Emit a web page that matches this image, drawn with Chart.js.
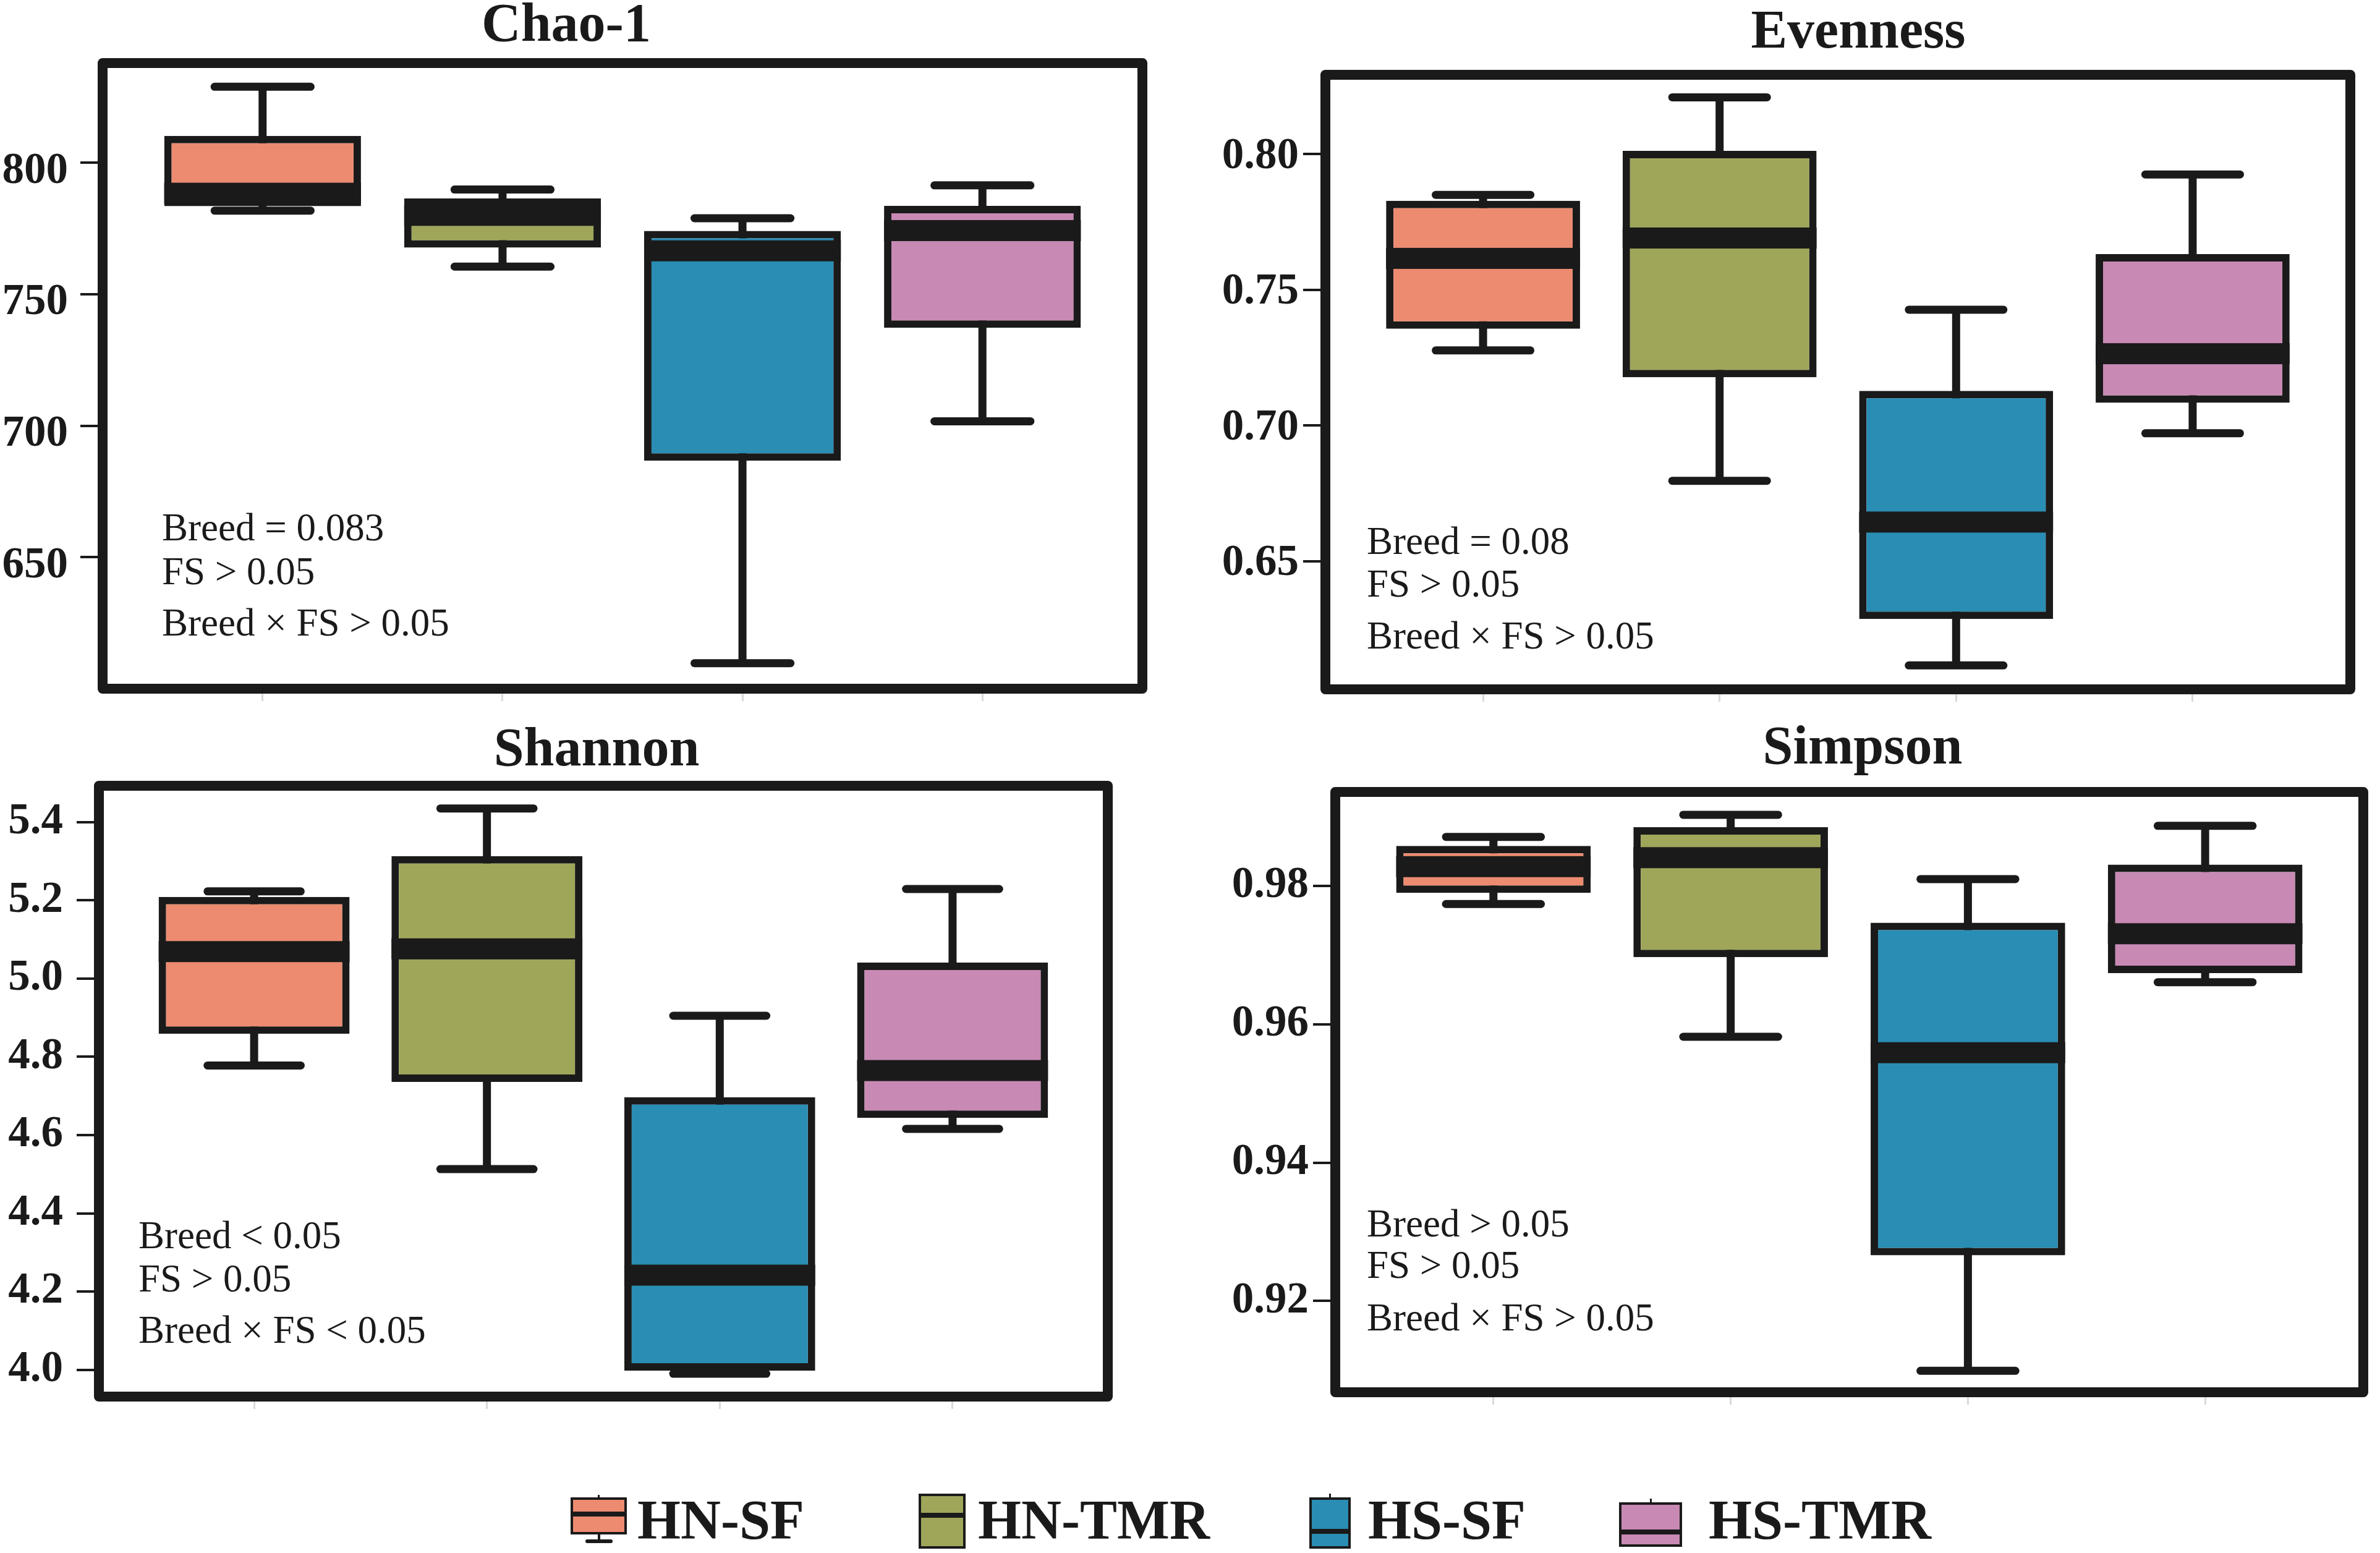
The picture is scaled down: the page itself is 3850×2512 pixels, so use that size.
<!DOCTYPE html>
<html>
<head>
<meta charset="utf-8">
<title>Alpha diversity</title>
<script src="https://cdn.jsdelivr.net/npm/chart.js@4.4.1/dist/chart.umd.min.js"></script>
<style>
  html, body { margin: 0; padding: 0; width: 3850px; height: 2512px; overflow: hidden; background: #fff; }
  canvas { position: absolute; }
  .lg { position: absolute; box-sizing: border-box; }
  .lg-text { position: absolute; font: bold 90px "Liberation Serif", serif; line-height: 90px; color: #1a1a1a; white-space: nowrap; }
</style>
</head>
<body>
<div id="legend"></div>
<script>
// groups
const groups = ["HN-SF", "HN-TMR", "HS-SF", "HS-TMR"];
const groupColors = ["#EC8B70", "#9FA65A", "#2A8DB3", "#C889B4"];

// Chao-1
const chaoMin = [781.8, 760.5, 609.7, 701.7];
const chaoQ1 = [783.5, 767.7, 686.7, 737.2];
const chaoMedian = [788.4, 780.0, 766.5, 774.2];
const chaoQ3 = [810.2, 786.4, 774.1, 783.6];
const chaoMax = [828.9, 789.8, 778.9, 791.4];
const chaoTicks = ["650", "700", "750", "800"];
const chaoNotes = ["Breed = 0.083", "FS > 0.05", "Breed \u00d7 FS > 0.05"];

// Evenness
const evenMin = [0.7277, 0.6797, 0.6117, 0.6972];
const evenQ1 = [0.7357, 0.7178, 0.6288, 0.7084];
const evenMedian = [0.7616, 0.7691, 0.6645, 0.7265];
const evenQ3 = [0.7828, 0.8012, 0.7128, 0.7632];
const evenMax = [0.7850, 0.8209, 0.7427, 0.7925];
const evenTicks = ["0.65", "0.70", "0.75", "0.80"];
const evenNotes = ["Breed = 0.08", "FS > 0.05", "Breed \u00d7 FS > 0.05"];

// Shannon
const shanMin = [4.778, 4.513, 3.990, 4.616];
const shanQ1 = [4.859, 4.736, 3.998, 4.644];
const shanMedian = [5.069, 5.076, 4.242, 4.765];
const shanQ3 = [5.209, 5.313, 4.697, 5.041];
const shanMax = [5.223, 5.435, 4.905, 5.229];
const shanTicks = ["4.0", "4.2", "4.4", "4.6", "4.8", "5.0", "5.2", "5.4"];
const shanNotes = ["Breed < 0.05", "FS > 0.05", "Breed \u00d7 FS < 0.05"];

// Simpson
const simpMin = [0.9774, 0.9582, 0.9099, 0.9661];
const simpQ1 = [0.9790, 0.9697, 0.9266, 0.9674];
const simpMedian = [0.9828, 0.9841, 0.9559, 0.9731];
const simpQ3 = [0.9858, 0.9885, 0.9747, 0.9831];
const simpMax = [0.9871, 0.9903, 0.9810, 0.9887];
const simpTicks = ["0.92", "0.94", "0.96", "0.98"];
const simpNotes = ["Breed > 0.05", "FS > 0.05", "Breed \u00d7 FS > 0.05"];

const INK = "#1a1a1a";
const SERIF = "'Liberation Serif', 'Times New Roman', serif";

Chart.defaults.font.family = SERIF;
Chart.defaults.color = INK;

// page layout of the four panels (frame = plot area in page pixels)
const panels = [
  {
    title: "Chao-1", min: chaoMin, q1: chaoQ1, med: chaoMedian, q3: chaoQ3, max: chaoMax,
    ticks: chaoTicks, notes: chaoNotes, yMin: 600, yMax: 837.9,
    frame: { l: 166, t: 102, r: 1848, b: 1114 }, titleX: 916, titleBase: 66, canvasLeft: -30,
    tickPad: 20, labelOffset: 14, noteX: 96, noteY: [772, 843, 926],
  },
  {
    title: "Evenness", min: evenMin, q1: evenQ1, med: evenMedian, q3: evenQ3, max: evenMax,
    ticks: evenTicks, notes: evenNotes, yMin: 0.6029, yMax: 0.8292,
    frame: { l: 2144, t: 121, r: 3802, b: 1115 }, titleX: 3006, titleBase: 77, canvasLeft: 1940,
    tickPad: 7, labelOffset: 4, noteX: 67, noteY: [775, 844, 928],
  },
  {
    title: "Shannon", min: shanMin, q1: shanQ1, med: shanMedian, q3: shanQ3, max: shanMax,
    ticks: shanTicks, notes: shanNotes, yMin: 3.9316, yMax: 5.4929,
    frame: { l: 160, t: 1271, r: 1792, b: 2259 }, titleX: 965, titleBase: 1238, canvasLeft: -30,
    tickPad: 22, labelOffset: 0, noteX: 64, noteY: [748, 818, 901],
  },
  {
    title: "Simpson", min: simpMin, q1: simpQ1, med: simpMedian, q3: simpQ3, max: simpMax,
    ticks: simpTicks, notes: simpNotes, yMin: 0.9068, yMax: 0.9936,
    frame: { l: 2160, t: 1281, r: 3823, b: 2252 }, titleX: 3013, titleBase: 1235, canvasLeft: 1940,
    tickPad: 7, labelOffset: 0, noteX: 51, noteY: [719, 786, 871],
  },
];

// whiskers, medians, notes, title and the heavy frame
function boxExtras(p, canvasTop) {
  return {
    id: "boxExtras",
    beforeDatasetsDraw(chart) {
      const { ctx, scales: { x, y } } = chart;
      const capW = (x.getPixelForValue(2) - x.getPixelForValue(1)) * 0.40;
      ctx.save();
      ctx.strokeStyle = INK;
      ctx.lineWidth = 13;
      groups.forEach((g, i) => {
        const px = x.getPixelForValue(i + 1);
        const top = y.getPixelForValue(p.max[i]);
        const bot = y.getPixelForValue(p.min[i]);
        ctx.lineCap = "butt";
        ctx.beginPath();
        ctx.moveTo(px, top);
        ctx.lineTo(px, bot);
        ctx.stroke();
        ctx.lineCap = "round";
        [top, bot].forEach((yy) => {
          ctx.beginPath();
          ctx.moveTo(px - capW / 2, yy);
          ctx.lineTo(px + capW / 2, yy);
          ctx.stroke();
        });
      });
      ctx.restore();
    },
    afterDatasetsDraw(chart) {
      const { ctx, chartArea, scales: { y } } = chart;
      const bars = chart.getDatasetMeta(0).data;
      ctx.save();
      ctx.fillStyle = INK;
      bars.forEach((bar, i) => {
        const { x: bx, width } = bar.getProps(["x", "width"], true);
        const ym = y.getPixelForValue(p.med[i]);
        ctx.fillRect(bx - width / 2, ym - 17, width, 34);
      });
      ctx.font = "63px " + SERIF;
      ctx.textBaseline = "alphabetic";
      ctx.textAlign = "left";
      p.notes.forEach((t, k) => {
        ctx.fillText(t, chartArea.left + p.noteX, chartArea.top + p.noteY[k]);
      });
      ctx.restore();
    },
    afterDraw(chart) {
      const { ctx, chartArea: ca } = chart;
      ctx.save();
      ctx.strokeStyle = INK;
      ctx.lineWidth = 16;
      ctx.lineJoin = "round";
      ctx.strokeRect(ca.left, ca.top, ca.right - ca.left, ca.bottom - ca.top);
      ctx.fillStyle = INK;
      ctx.font = "bold 88px " + SERIF;
      ctx.textAlign = "center";
      ctx.textBaseline = "alphabetic";
      ctx.fillText(p.title, p.titleX - p.canvasLeft, p.titleBase - canvasTop);
      ctx.restore();
    },
  };
}

panels.forEach((p) => {
  const top = p.titleBase - 90;
  const padRight = 20;
  const width = Math.round(p.frame.r + padRight - p.canvasLeft);
  const height = Math.round(p.frame.b + 80 - top);
  const yWidth = p.frame.l - p.canvasLeft;

  const canvas = document.createElement("canvas");
  canvas.width = width;
  canvas.height = height;
  canvas.style.left = p.canvasLeft + "px";
  canvas.style.top = top + "px";
  document.body.appendChild(canvas);

  new Chart(canvas, {
    type: "bar",
    data: {
      datasets: [{
        label: p.title,
        data: groups.map((g, i) => ({ x: i + 1, y: [p.q1[i], p.q3[i]] })),
        backgroundColor: groupColors,
        borderColor: INK,
        borderWidth: 12,
        borderSkipped: false,
        categoryPercentage: 0.82,
        barPercentage: 1,
      }],
    },
    options: {
      responsive: false,
      animation: false,
      events: [],
      layout: { padding: { left: 0, right: padRight, top: p.frame.t - top, bottom: 10 } },
      plugins: {
        legend: { display: false },
        tooltip: { enabled: false },
        title: { display: false },
      },
      scales: {
        x: {
          type: "linear",
          min: 1 / 3,
          max: 14 / 3,
          offset: false,
          border: { display: false },
          grid: { offset: false, drawOnChartArea: false, drawTicks: true, tickLength: 20, lineWidth: 3, color: "rgba(0,0,0,0.15)" },
          ticks: { display: false },
          afterBuildTicks: (axis) => { axis.ticks = groups.map((g, i) => ({ value: i + 1 })); },
          afterFit: (axis) => { axis.height = 70; },
        },
        y: {
          min: p.yMin,
          max: p.yMax,
          border: { display: false },
          grid: { drawOnChartArea: false, drawTicks: true, tickLength: 36, lineWidth: 4, color: INK },
          ticks: {
            color: INK,
            padding: p.tickPad,
            labelOffset: p.labelOffset,
            font: { family: SERIF, weight: "bold", size: 71 },
            callback: (v, i) => p.ticks[i],
          },
          afterBuildTicks: (axis) => { axis.ticks = p.ticks.map((t) => ({ value: Number(t) })); },
          afterFit: (axis) => { axis.width = yWidth; },
        },
      },
    },
    plugins: [boxExtras(p, top)],
  });
});

// shared legend under the panels
const legendLayout = [
  { iconX: 923, w: 91, boxTop: 2422, boxBot: 2482, med: 2449, capTop: 2418, capBot: 2493, textX: 1031 },
  { iconX: 1486, w: 76, boxTop: 2416, boxBot: 2505, med: 2451, textX: 1582 },
  { iconX: 2118, w: 67, boxTop: 2422, boxBot: 2505, med: 2477, capTop: 2416, textX: 2213 },
  { iconX: 2619, w: 102, boxTop: 2430, boxBot: 2502, med: 2478, capTop: 2424, textX: 2764 },
];
const legend = document.getElementById("legend");

function addDiv(cls, css, text) {
  const d = document.createElement("div");
  d.className = cls;
  Object.assign(d.style, css);
  if (text) d.textContent = text;
  legend.appendChild(d);
}

groups.forEach((g, i) => {
  const L = legendLayout[i];
  const cx = L.iconX + L.w / 2;
  if (L.capTop) {
    addDiv("lg", { left: cx - 1.5 + "px", top: L.capTop + "px", width: "3px", height: L.boxTop - L.capTop + "px", background: INK });
  }
  if (L.capBot) {
    addDiv("lg", { left: cx - 2 + "px", top: L.boxBot + "px", width: "4px", height: L.capBot - L.boxBot + "px", background: INK });
    addDiv("lg", { left: cx - 22 + "px", top: L.capBot - 3 + "px", width: "44px", height: "6px", background: INK, borderRadius: "3px" });
  }
  addDiv("lg", {
    left: L.iconX + "px", top: L.boxTop + "px", width: L.w + "px", height: L.boxBot - L.boxTop + "px",
    background: groupColors[i], border: "4px solid " + INK,
  });
  addDiv("lg", { left: L.iconX + "px", top: L.med - 4 + "px", width: L.w + "px", height: "8px", background: INK });
  addDiv("lg-text", { left: L.textX + "px", top: 2489 - 75 + "px" }, g);
});
</script>
</body>
</html>
